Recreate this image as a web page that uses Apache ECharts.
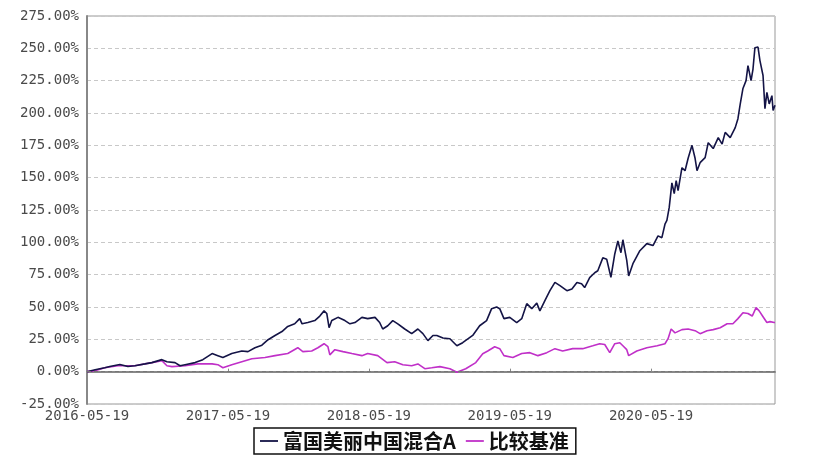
<!DOCTYPE html>
<html>
<head>
<meta charset="utf-8">
<script src="https://cdn.jsdelivr.net/npm/echarts@6/dist/echarts.min.js"></script>
<style>html,body{margin:0;padding:0;background:#fff;}#c{width:822px;height:462px;}</style>
</head>
<body>
<div id="c"></div>
<script>
var seriesNames = ['富国美丽中国混合A', '比较基准'];
var xTickLabels = ['2016-05-19', '2017-05-19', '2018-05-19', '2019-05-19', '2020-05-19'];
var xMin = '2016-05-19';
var xMax = '2021-04-05';

var fundDates = ['2016-05-19','2016-06-09','2016-07-04','2016-07-17','2016-08-12','2016-09-02','2016-09-20','2016-10-16','2016-11-03','2016-11-29','2016-12-12','2017-01-02','2017-01-15','2017-01-28','2017-02-23','2017-03-15','2017-04-08','2017-04-23','2017-05-06','2017-05-29','2017-06-24','2017-07-10','2017-07-28','2017-08-15','2017-08-31','2017-09-18','2017-10-06','2017-10-21','2017-11-08','2017-11-21','2017-11-27','2017-12-12','2017-12-30','2018-01-12','2018-01-23','2018-01-30','2018-02-05','2018-02-12','2018-02-28','2018-03-18','2018-03-31','2018-04-13','2018-05-01','2018-05-16','2018-06-04','2018-06-16','2018-06-24','2018-07-07','2018-07-20','2018-08-02','2018-08-20','2018-09-07','2018-09-23','2018-10-06','2018-10-19','2018-11-01','2018-11-11','2018-11-27','2018-12-15','2019-01-02','2019-01-17','2019-02-12','2019-03-02','2019-03-20','2019-04-02','2019-04-15','2019-04-23','2019-05-04','2019-05-19','2019-06-06','2019-06-19','2019-07-02','2019-07-15','2019-07-28','2019-08-05','2019-08-18','2019-08-31','2019-09-13','2019-09-26','2019-10-14','2019-10-27','2019-11-09','2019-11-21','2019-11-29','2019-12-12','2019-12-25','2020-01-02','2020-01-15','2020-01-25','2020-02-05','2020-02-15','2020-02-23','2020-03-02','2020-03-07','2020-03-17','2020-03-22','2020-04-02','2020-04-20','2020-05-08','2020-05-24','2020-06-06','2020-06-16','2020-06-24','2020-06-29','2020-07-05','2020-07-12','2020-07-18','2020-07-23','2020-07-28','2020-08-07','2020-08-15','2020-08-23','2020-09-02','2020-09-10','2020-09-15','2020-09-23','2020-10-06','2020-10-14','2020-10-27','2020-11-09','2020-11-19','2020-11-27','2020-12-10','2020-12-23','2020-12-30','2021-01-05','2021-01-12','2021-01-20','2021-01-25','2021-02-02','2021-02-07','2021-02-12','2021-02-20','2021-02-25','2021-03-05','2021-03-10','2021-03-15','2021-03-21','2021-03-28','2021-03-31','2021-04-05'];
var fundValues = [0,1.5,3,4,5.5,4,4.6,6,7,9.3,7.7,7,4.6,5.4,7,9.3,14,12.4,11,14,16,15.5,18.5,20.5,24.7,28,31,35,37,41,37,38,39.5,43,47,45,34,39.5,42,39.5,37,38,42,41,42,38,33,35.5,39.5,37,33,29.4,33,29.4,24,28,28,26,25.5,20,22.4,28,35.5,39.5,48.7,50,48.7,41,42,38,41,52.6,48.7,53,47,55,62.6,69,66.5,62.6,64,69,68,65,72.7,76.5,78,88,87,73,91,101,92,102,86,74,83.5,93.5,99,97.5,105,103.6,114,117,127,146,137.6,147.7,140,157.7,155.4,165,175,165,155.4,161.6,165.5,177,172.5,181,176,185,181,188.7,195.6,207,219,225,236.6,225,234,250.5,251,240.5,229,203.4,216,207,213.4,202,206];

var benchDates = ['2016-05-19','2016-06-09','2016-07-04','2016-08-07','2016-09-20','2016-11-03','2016-11-29','2016-12-12','2016-12-25','2017-01-28','2017-03-02','2017-04-08','2017-04-23','2017-05-06','2017-05-29','2017-06-24','2017-07-20','2017-08-23','2017-09-18','2017-10-21','2017-11-16','2017-11-29','2017-12-22','2018-01-07','2018-01-23','2018-02-02','2018-02-07','2018-02-20','2018-03-13','2018-04-05','2018-05-01','2018-05-16','2018-06-11','2018-07-05','2018-07-25','2018-08-15','2018-09-07','2018-09-23','2018-10-11','2018-10-29','2018-11-19','2018-12-15','2019-01-02','2019-01-25','2019-02-20','2019-03-10','2019-03-23','2019-04-10','2019-04-23','2019-05-04','2019-05-27','2019-06-19','2019-07-10','2019-07-31','2019-08-23','2019-09-13','2019-10-03','2019-10-29','2019-11-24','2019-12-20','2020-01-07','2020-01-20','2020-02-02','2020-02-15','2020-02-28','2020-03-07','2020-03-17','2020-03-22','2020-04-12','2020-05-08','2020-06-04','2020-06-24','2020-07-02','2020-07-10','2020-07-20','2020-08-07','2020-08-23','2020-09-10','2020-09-23','2020-10-11','2020-10-27','2020-11-14','2020-12-02','2020-12-17','2020-12-30','2021-01-12','2021-01-25','2021-02-05','2021-02-15','2021-02-23','2021-03-05','2021-03-15','2021-03-23','2021-04-03','2021-04-05'];
var benchValues = [0,0.8,3,4.6,4.6,7,8.5,4.6,3.9,4.6,6,6,5.4,3,5.4,7.7,10,11,12.4,14,18.5,15.5,16,18.5,21.6,19.3,13,17,15.5,14,12.4,14,12.4,7,7.7,5.4,4.6,6,2.3,3,3.9,2.3,-0.5,2.3,7,13.9,16,19.3,17.8,12.4,11,14,14.7,12.4,14.7,17.8,16,17.8,17.8,20,21.6,21,14.7,21.6,22.4,20,17,12.4,16,18.5,20,21.6,25.5,33,30,32.5,33,31.7,29.4,31.7,32.5,34,37,37,41,45.6,45,43,49.5,47,42.5,38,38.7,38,38];

function ts(s) { var p = s.split('-'); return Date.UTC(+p[0], +p[1] - 1, +p[2]); }
function zip(d, v) { return d.map(function (x, i) { return [ts(x), v[i]]; }); }
function pad(n) { return (n < 10 ? '0' : '') + n; }
function fmtDate(v) { var d = new Date(v); return d.getUTCFullYear() + '-' + pad(d.getUTCMonth() + 1) + '-' + pad(d.getUTCDate()); }

var tickVals = xTickLabels.map(ts);
var chart = echarts.init(document.getElementById('c'), null, { renderer: 'canvas' });
var labelFont = { fontFamily: 'DejaVu Sans Mono', fontSize: 14, color: '#4a4a4a' };
chart.setOption({
  animation: false,
  backgroundColor: '#fff',
  grid: { left: 87, right: 47, top: 16, bottom: 58, show: true, borderColor: '#999', borderWidth: 1 },
  legend: {
    bottom: 8, left: 254,
    data: seriesNames,
    icon: 'path://M0,0 L20,0 L20,2 L0,2 Z',
    itemWidth: 18, itemHeight: 2, itemGap: 10,
    padding: [3, 7, 3, 6],
    borderColor: '#111', borderWidth: 1.5,
    textStyle: { fontFamily: 'Noto Sans CJK SC', fontWeight: 'bold', fontSize: 20, color: '#111' }
  },
  xAxis: {
    type: 'value', min: ts(xMin), max: ts(xMax),
    axisLine: { show: true, lineStyle: { color: '#888', width: 2 } },
    axisTick: { show: true, inside: true, length: 3, lineStyle: { color: '#888' }, customValues: tickVals },
    splitLine: { show: false },
    axisLabel: Object.assign({ margin: 5, customValues: tickVals, formatter: fmtDate }, labelFont)
  },
  yAxis: {
    type: 'value', min: -25, max: 275, interval: 25,
    axisLine: { show: true, lineStyle: { color: '#888', width: 2 } },
    axisTick: { show: false },
    splitLine: { show: true, lineStyle: { color: '#c8c8c8', type: [4, 3], width: 1 } },
    axisLabel: Object.assign({ margin: 8, formatter: function (v) { return v.toFixed(2) + '%'; } }, labelFont)
  },
  series: [
    { name: seriesNames[0], type: 'line', data: zip(fundDates, fundValues), showSymbol: false, symbol: 'none', lineStyle: { color: '#141446', width: 1.6 }, itemStyle: { color: '#141446' }, z: 3 },
    { name: seriesNames[1], type: 'line', data: zip(benchDates, benchValues), showSymbol: false, symbol: 'none', lineStyle: { color: '#c030c8', width: 1.6 }, itemStyle: { color: '#c030c8' }, z: 2,
      markLine: { silent: true, symbol: 'none', label: { show: false }, lineStyle: { color: '#777', type: [4, 3], width: 1 }, data: [{ yAxis: 0 }] } }
  ]
});
</script>
</body>
</html>
